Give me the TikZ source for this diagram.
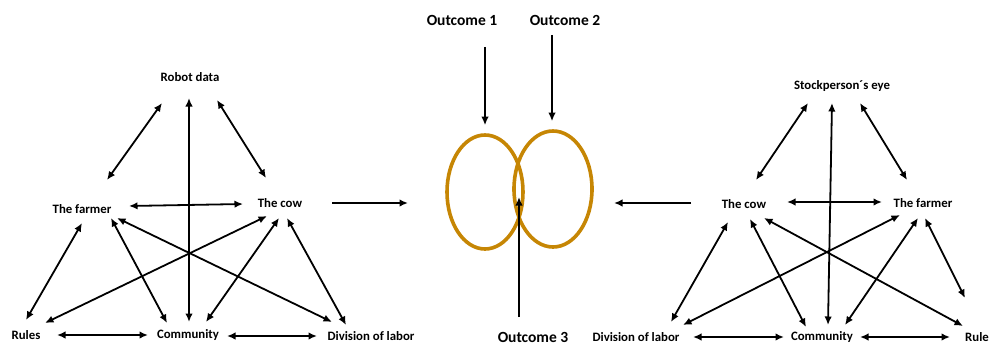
\documentclass[tikz,border=0pt]{standalone}
\usepackage{fontspec}
\setmainfont{Carlito}
\usetikzlibrary{arrows.meta,shapes.geometric,calc}
\definecolor{gold}{RGB}{198,134,4}
\begin{document}
\begin{tikzpicture}[x=1pt,y=-1pt,
  lbl/.style={inner sep=0pt,font=\fontsize{12.8}{14}\selectfont\bfseries},
  olbl/.style={inner sep=0pt,font=\fontsize{15.5}{17}\selectfont\bfseries},
  dbl/.style={line width=1.8pt,{Latex[length=8.5pt,width=7.5pt]}-{Latex[length=8.5pt,width=7.5pt]}},
  one/.style={line width=1.8pt,-{Latex[length=8.5pt,width=7.5pt]}},
  ring/.style={draw=gold,line width=3.6pt,ellipse,inner sep=0pt}]
\useasboundingbox (0,0) rectangle (990,345);
% left diagram
\node[lbl] (robot) at (190,77) {Robot data};
\node[lbl] (farmerL) at (82,209) {The farmer};
\node[lbl] (cowL) at (280,203) {The cow};
\node[lbl] (rulesL) at (26,335) {Rules};
\node[lbl] (commL) at (188,335) {Community};
\node[lbl] (divL) at (371,336) {Division of labor};
\draw[dbl] ($(robot)+(-28,26)$) -- ($(farmerL)+(25,-29)$);
\draw[dbl] ($(robot)+(-1,21)$) -- ($(commL)+(1,-13)$);
\draw[dbl] ($(robot)+(27,23)$) -- ($(cowL)+(-14,-25)$);
\draw[dbl] ($(farmerL)+(47,-3)$) -- ($(cowL)+(-37,1)$);
\draw[dbl] ($(farmerL)+(0,14)$) -- ($(rulesL)+(0,-15)$);
\draw[dbl] ($(cowL)+(-13,13)$) -- ($(rulesL)+(19,-12)$);
\draw[dbl] ($(farmerL)+(29,9)$) -- ($(commL)+(-21,-12)$);
\draw[dbl] ($(farmerL)+(35,9)$) -- ($(divL)+(-39,-14)$);
\draw[dbl] ($(cowL)+(-1,15)$) -- ($(commL)+(18,-13)$);
\draw[dbl] ($(cowL)+(7,15)$) -- ($(divL)+(-25,-11)$);
\draw[dbl] ($(rulesL)+(31,0)$) -- ($(commL)+(-40,0)$);
\draw[dbl] ($(commL)+(39,1)$) -- ($(divL)+(-54,0)$);
% center
\node[ring,minimum width=76pt,minimum height=114pt] (eL) at (485,192) {};
\node[ring,minimum width=78pt,minimum height=116pt] (eR) at (553,189) {};
\node[olbl] (o1) at (462,20) {Outcome 1};
\node[olbl] (o2) at (565,20) {Outcome 2};
\node[olbl] (o3) at (533,337.5) {Outcome 3};
\draw[one] ($(o1)+(23,27)$) -- ($(eL.north)+(0,-8)$);
\draw[one] ($(o2)+(-13,15)$) -- ($(eR.north)+(-1,-8)$);
\draw[one] ($(o3)+(-14,-20.5)$) -- ($(eL)+(34,5)$);
\draw[one] ($(cowL)+(52,0)$) -- ($(eL)+(-77,11)$);
% right diagram
\node[lbl] (eye) at (842,86) {Stockperson´s eye};
\node[lbl] (cowR) at (744,204) {The cow};
\node[lbl] (farmerR) at (923,203) {The farmer};
\node[lbl] (divR) at (636,337) {Division of labor};
\node[lbl] (commR) at (822,337) {Community};
\node[lbl,anchor=west] (ruleR) at (965,337) {Rule};
\draw[one] ($(cowR)+(-53,-1)$) -- ($(eR)+(61,14)$);
\draw[dbl] ($(eye)+(-34,17)$) -- ($(cowR)+(12,-24)$);
\draw[dbl] ($(eye)+(-10,17)$) -- ($(commR)+(6,-12)$);
\draw[dbl] ($(eye)+(18,17)$) -- ($(farmerR)+(-16,-23)$);
\draw[dbl] ($(cowR)+(43,-2)$) -- ($(farmerR)+(-41,-1)$);
\draw[dbl] ($(cowR)+(-16,18)$) -- ($(divR)+(35,-15)$);
\draw[dbl] ($(farmerR)+(-23,12)$) -- ($(divR)+(47,-12)$);
\draw[dbl] ($(cowR)+(6,15)$) -- ($(commR)+(-16,-10)$);
\draw[dbl] ($(cowR)+(20,14)$) -- ($(ruleR.west)+(-2,-11)$);
\draw[dbl] ($(farmerR)+(-5,15)$) -- ($(commR)+(23,-12)$);
\draw[dbl] ($(farmerR)+(2,15)$) -- ($(ruleR.west)+(0,-39)$);
\draw[dbl] ($(divR)+(57,0)$) -- ($(commR)+(-38,0)$);
\draw[dbl] ($(commR)+(38,0)$) -- ($(ruleR.west)+(-15,0)$);
\end{tikzpicture}
\end{document}
